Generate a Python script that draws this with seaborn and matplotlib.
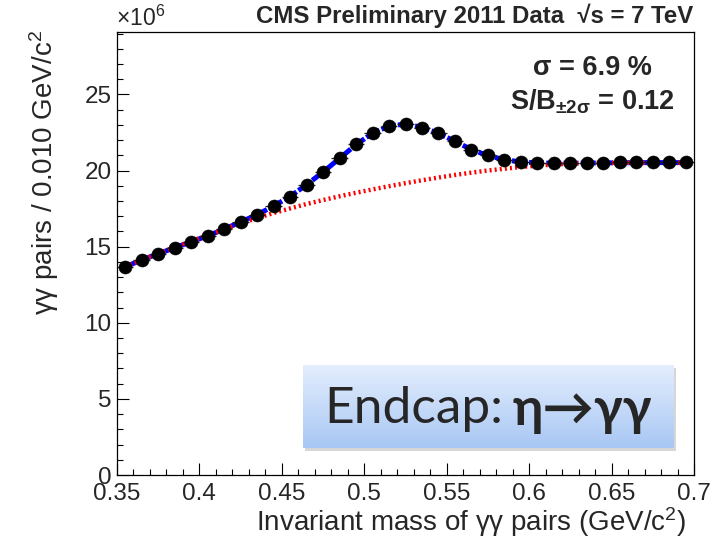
import numpy as np
import matplotlib
matplotlib.use("Agg")
import matplotlib.pyplot as plt
import matplotlib.ticker as mticker
from matplotlib.patches import FancyBboxPatch
import seaborn as sns

# Di-photon invariant mass, bin centres (GeV/c^2), 0.010 GeV/c^2 bins
mass = [0.355, 0.365, 0.375, 0.385, 0.395, 0.405, 0.415, 0.425, 0.435, 0.445,
        0.455, 0.465, 0.475, 0.485, 0.495, 0.505, 0.515, 0.525, 0.535, 0.545,
        0.555, 0.565, 0.575, 0.585, 0.595, 0.605, 0.615, 0.625, 0.635, 0.645,
        0.655, 0.665, 0.675, 0.685, 0.695]

# Candidate pairs per bin (x 10^6)
counts = [13.68, 14.13, 14.52, 14.93, 15.31, 15.70, 16.16, 16.62, 17.09, 17.68,
          18.29, 19.08, 19.89, 20.80, 21.72, 22.46, 22.94, 23.06, 22.82, 22.46,
          21.91, 21.36, 20.99, 20.70, 20.55, 20.49, 20.49, 20.49, 20.49, 20.49,
          20.53, 20.55, 20.55, 20.54, 20.54]

# Total fit (signal + background), evaluated at the bin centres (x 10^6)
fit_total = [13.68, 14.12, 14.53, 14.93, 15.32, 15.71, 16.15, 16.62, 17.10, 17.67,
             18.30, 19.07, 19.90, 20.80, 21.70, 22.45, 22.93, 23.05, 22.84, 22.44,
             21.92, 21.38, 20.98, 20.71, 20.56, 20.50, 20.48, 20.48, 20.49, 20.50,
             20.51, 20.52, 20.52, 20.52, 20.52]

# Background component of the fit (x 10^6)
background = [13.68, 14.12, 14.55, 14.96, 15.36, 15.74, 16.14, 16.52, 16.88, 17.21,
              17.51, 17.80, 18.06, 18.31, 18.54, 18.76, 18.97, 19.17, 19.36, 19.54,
              19.71, 19.86, 20.00, 20.12, 20.23, 20.32, 20.40, 20.45, 20.49, 20.51,
              20.51, 20.51, 20.51, 20.51, 20.51]

bin_half_width = 0.005

x_ticks = [0.35, 0.40, 0.45, 0.50, 0.55, 0.60, 0.65, 0.70]
x_tick_labels = ["0.35", "0.4", "0.45", "0.5", "0.55", "0.6", "0.65", "0.7"]
y_ticks = [0, 5, 10, 15, 20, 25]
y_tick_labels = ["0", "5", "10", "15", "20", "25"]

sns.set_style("ticks")
plt.rcParams["font.family"] = ["Liberation Sans", "DejaVu Sans"]
plt.rcParams["mathtext.fontset"] = "custom"
plt.rcParams["mathtext.rm"] = "Liberation Sans"
plt.rcParams["mathtext.it"] = "Liberation Sans"
plt.rcParams["mathtext.bf"] = "Liberation Sans:bold"
plt.rcParams["mathtext.sf"] = "Liberation Sans"
plt.rcParams["mathtext.default"] = "regular"

fig = plt.figure(figsize=(7.12, 5.39), dpi=100)
ax = fig.add_axes([117 / 712, 1 - 475 / 539, (694 - 117) / 712, (475 - 32) / 539])

# fit curves
sns.lineplot(x=mass, y=fit_total, ax=ax, color="#0000ff", linewidth=3.6,
             linestyle=(0, (3.0, 0.45)), zorder=2)
sns.lineplot(x=mass, y=background, ax=ax, color="#ff0000", linewidth=3.2,
             linestyle=(0, (0.45, 0.7)), zorder=3)

# data points with bin-width error bars
ax.errorbar(mass, counts, xerr=bin_half_width, yerr=np.sqrt(np.array(counts) * 1e6) / 1e6,
            fmt="none", ecolor="#222222", elinewidth=0.9, zorder=4)
sns.scatterplot(x=mass, y=counts, ax=ax, color="black", s=88, edgecolor="black",
                linewidth=0.4, zorder=5)

ax.set_xlim(0.35, 0.70)
ax.set_ylim(0, 29.1)
ax.set_xticks(x_ticks)
ax.set_xticklabels(x_tick_labels)
ax.set_yticks(y_ticks)
ax.set_yticklabels(y_tick_labels)
ax.xaxis.set_minor_locator(mticker.MultipleLocator(0.01))
ax.yaxis.set_minor_locator(mticker.MultipleLocator(1))
ax.tick_params(axis="both", which="both", direction="in", top=False, right=False,
               color="black", width=0.8)
ax.tick_params(axis="both", which="major", length=8.5, labelsize=17.5)
ax.tick_params(axis="both", which="minor", length=4.5)
ax.tick_params(axis="x", which="major", pad=6)
ax.tick_params(axis="y", which="major", pad=4)
for side in ["left", "right", "top", "bottom"]:
    ax.spines[side].set_visible(True)
    ax.spines[side].set_color("black")
    ax.spines[side].set_linewidth(0.9)
ax.set_xlabel("")
ax.set_ylabel("")

# axis titles
fig.text(686 / 712, 1 - 522 / 539, "Invariant mass of \u03b3\u03b3 pairs (GeV/c$^2$)",
         ha="right", va="center", fontsize=20)
fig.text(44 / 712, 1 - 30 / 539, "\u03b3\u03b3 pairs / 0.010 GeV/c$^2$",
         ha="center", va="top", rotation=90, fontsize=20)
fig.text(116 / 712, 1 - 26 / 539, "\u00d710$^6$", ha="left", va="baseline",
         fontsize=16.5)

# header
fig.text(693 / 712, 1 - 23 / 539, "CMS Preliminary 2011 Data  \u221as = 7 TeV",
         ha="right", va="baseline", fontsize=17.3, fontweight="bold")

# fit results
ax.text(652 / 712, 1 - 75 / 539, "\u03c3 = 6.9 %", transform=fig.transFigure,
        ha="right", va="baseline", fontsize=19.5, fontweight="bold")
ax.text(675 / 712, 1 - 109 / 539, r"S/B$_{\pm2\sigma}$ = 0.12", transform=fig.transFigure,
        ha="right", va="baseline", fontsize=19.5, fontweight="bold")

# highlighted region label with gradient fill and drop shadow
bx0, by0, bw, bh = 303 / 712, 1 - 448 / 539, (674 - 303) / 712, (448 - 365) / 539
shadow = FancyBboxPatch((bx0 + 0.003, by0 - 0.006), bw, bh, boxstyle="square,pad=0",
                        transform=fig.transFigure, facecolor="#9a9a9a", alpha=0.4,
                        edgecolor="none", zorder=8)
fig.patches.append(shadow)
box_ax = fig.add_axes([bx0, by0, bw, bh], zorder=9)
gradient = np.linspace(0, 1, 256).reshape(-1, 1)
cmap = matplotlib.colors.LinearSegmentedColormap.from_list("box", ["#e4eefd", "#a8c7f4"])
box_ax.imshow(gradient, aspect="auto", cmap=cmap, extent=[0, 1, 0, 1], origin="upper")
box_ax.set_axis_off()
box_ax.text(0.058, 0.47, "Endcap:", ha="left", va="center", fontsize=37,
            family=["Lato", "DejaVu Sans"])
box_ax.text(0.566, 0.45, "\u03b7\u2192\u03b3\u03b3", ha="left", va="center", fontsize=37,
            fontweight="bold", family=["Lato", "DejaVu Sans"])

fig.savefig("out.png", dpi=100)
